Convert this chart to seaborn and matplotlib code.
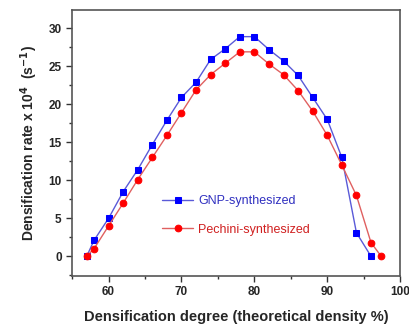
import numpy as np
import pandas as pd
import matplotlib
matplotlib.use("Agg")
import matplotlib.pyplot as plt
import seaborn as sns
from matplotlib.ticker import MultipleLocator

# === DATA ===
gnp_x = [57, 58, 60, 62, 64, 66, 68, 70, 72, 74, 76, 78, 80, 82, 84, 86, 88, 90, 92, 94, 96]
gnp_y = [0, 2.1, 5, 8.5, 11.4, 14.7, 17.9, 20.9, 22.9, 25.9, 27.3, 28.9, 28.9, 27.2, 25.7, 23.8, 20.9, 18.0, 13.0, 3.1, 0]

pech_x = [57, 58, 60, 62, 64, 66, 68, 70, 72, 74, 76, 78, 80, 82, 84, 86, 88, 90, 92, 94, 96, 97.4]
pech_y = [0, 1.0, 4.0, 7.0, 10.1, 13.0, 15.9, 18.9, 21.9, 23.9, 25.4, 26.9, 26.9, 25.3, 23.9, 21.8, 19.1, 15.9, 12.0, 8.0, 1.8, 0]

gnp = pd.DataFrame({"x": gnp_x, "y": gnp_y})
pech = pd.DataFrame({"x": pech_x, "y": pech_y})

sns.set_style("ticks")
plt.rcParams["font.family"] = ["Liberation Sans", "DejaVu Sans"]

fig = plt.figure(figsize=(4.1, 3.24), dpi=100)
ax = fig.add_axes([0.176, 0.148, 0.80, 0.821])

sns.lineplot(data=gnp, x="x", y="y", ax=ax, color="#5a5ad8", lw=1.0,
             marker="s", markersize=4.2, markerfacecolor="#0000ff",
             markeredgecolor="#0000ff", label="GNP-synthesized")
sns.lineplot(data=pech, x="x", y="y", ax=ax, color="#e06060", lw=1.0,
             marker="o", markersize=4.8, markerfacecolor="#ff0000",
             markeredgecolor="#ff0000", label="Pechini-synthesized")

ax.set_xlim(55, 100)
ax.set_ylim(-2.6, 32.4)
ax.xaxis.set_major_locator(MultipleLocator(10))
ax.xaxis.set_minor_locator(MultipleLocator(5))
ax.yaxis.set_major_locator(MultipleLocator(5))
ax.yaxis.set_minor_locator(MultipleLocator(2.5))
ax.tick_params(which="major", direction="out", length=4, width=1, labelsize=8.5, color="#333333")
ax.tick_params(which="minor", direction="out", length=2.5, width=1, color="#333333")
for lab in ax.get_xticklabels() + ax.get_yticklabels():
    lab.set_fontweight("bold")
for s in ax.spines.values():
    s.set_color("#555555")
    s.set_linewidth(1.2)

ax.set_xlabel("Densification degree (theoretical density %)", fontsize=10.5, fontweight="bold", labelpad=8)
ax.set_ylabel(r"Densification rate x 10$^\mathbf{4}$  (s$^\mathbf{-1}$)", fontsize=10, fontweight="bold", labelpad=6)

leg = ax.legend(loc="lower left", bbox_to_anchor=(0.24, 0.11), frameon=False,
                fontsize=9, handlelength=2.5, labelspacing=1.3, handletextpad=0.4)
leg.get_texts()[0].set_color("#3030c0")
leg.get_texts()[1].set_color("#d02020")

fig.savefig("out.png", dpi=100)
